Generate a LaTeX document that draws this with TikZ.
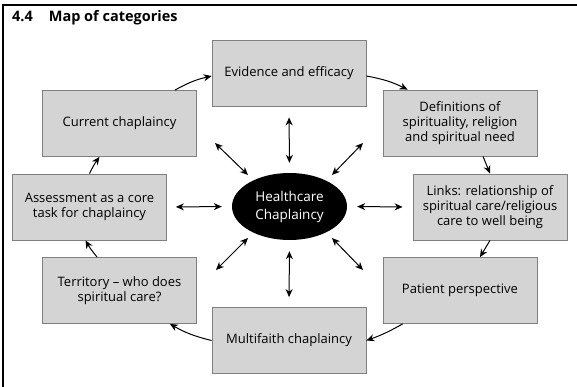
\documentclass[tikz,border=0pt]{standalone}
\usepackage{fontspec}
\setmainfont{Open Sans}
\usetikzlibrary{arrows.meta,shapes.geometric}
\definecolor{boxgray}{gray}{0.83}
\definecolor{edgegray}{gray}{0.5}
\tikzset{
  cat/.style={draw=edgegray, fill=boxgray, line width=0.8pt, minimum width=154pt,
    minimum height=66pt, align=center, inner sep=0pt, font=\fontsize{13}{15}\selectfont},
  link/.style={-{Stealth[length=8pt,width=7pt]}, line width=1pt},
  spoke/.style={{Stealth[length=8pt,width=7pt]}-{Stealth[length=8pt,width=7pt]}, line width=1pt}
}

\begin{document}
\begin{tikzpicture}[x=1pt, y=-1pt]
\useasboundingbox (0,0) rectangle (577,387);
% frame
\draw[line width=2.5pt] (1.8,5) -- (577,5);
\draw[line width=2pt] (3,5) -- (3,387);
\node[anchor=west, font=\fontsize{14.5}{16}\selectfont\bfseries, inner sep=0pt] (title) at (12,18) {4.4\hspace{1.1em}Map of categories};

% categories
\node[cat] (ev) at (289,73) {Evidence and efficacy};
\node[cat] (de) at (460,123) {Definitions of\\spirituality, religion\\and spiritual need};
\node[cat] (li) at (490,207) {Links: relationship of\\spiritual care/religious\\care to well being};
\node[cat] (pa) at (460,290.5) {Patient perspective};
\node[cat] (mu) at (289,340.5) {Multifaith chaplaincy};
\node[cat] (te) at (119.5,290.5) {Territory -- who does\\spiritual care?};
\node[cat] (as) at (89.5,207) {Assessment as a core\\task for chaplaincy};
\node[cat] (cu) at (119.5,123.5) {Current chaplaincy};

% centre
\node[ellipse, fill=black, text=white, minimum width=115pt, minimum height=67pt,
  inner sep=0pt, align=center, font=\fontsize{13.5}{18}\selectfont] (hc) at (289.5,206.5) {Healthcare\\Chaplaincy};

% round the ring
\draw[link] ([xshift=-22pt]cu.north east) to[bend left=8] ([yshift=-3pt]ev.west);
\draw[link] ([yshift=-3pt]ev.east) to[bend left=8] ([xshift=25pt]de.north west);
\draw[link] ([xshift=23pt]de.south) -- (li.north);
\draw[link] (li.south) -- ([xshift=20pt]pa.north);
\draw[link] ([xshift=20pt]pa.south west) to[bend left=5] (mu.east);
\draw[link] (mu.west) to[bend left=8] ([xshift=-27pt]te.south east);
\draw[link] ([xshift=55pt]te.north west) to[bend left=5] ([xshift=-4pt]as.south);
\draw[link] (as.north) to[bend left=5] ([xshift=-20pt]cu.south);

% spokes
\draw[spoke, shorten <=10pt, shorten >=11pt] (hc.north) -- (ev.south);
\draw[spoke, shorten <=11pt, shorten >=10pt] (hc.south) -- (mu.north);
\draw[spoke, shorten <=10pt, shorten >=9pt] (hc.west) -- (as.east);
\draw[spoke, shorten <=10pt, shorten >=10pt] (hc.east) -- (li.west);
\coordinate (ne1) at (332,175); \coordinate (ne2) at (363,143);
\coordinate (nw1) at (248,175); \coordinate (nw2) at (215,143);
\coordinate (se1) at (332,238); \coordinate (se2) at (363,270);
\coordinate (sw1) at (248,238); \coordinate (sw2) at (216,270);
\draw[spoke] (ne1) -- (ne2);
\draw[spoke] (nw1) -- (nw2);
\draw[spoke] (se1) -- (se2);
\draw[spoke] (sw1) -- (sw2);
\end{tikzpicture}
\end{document}
